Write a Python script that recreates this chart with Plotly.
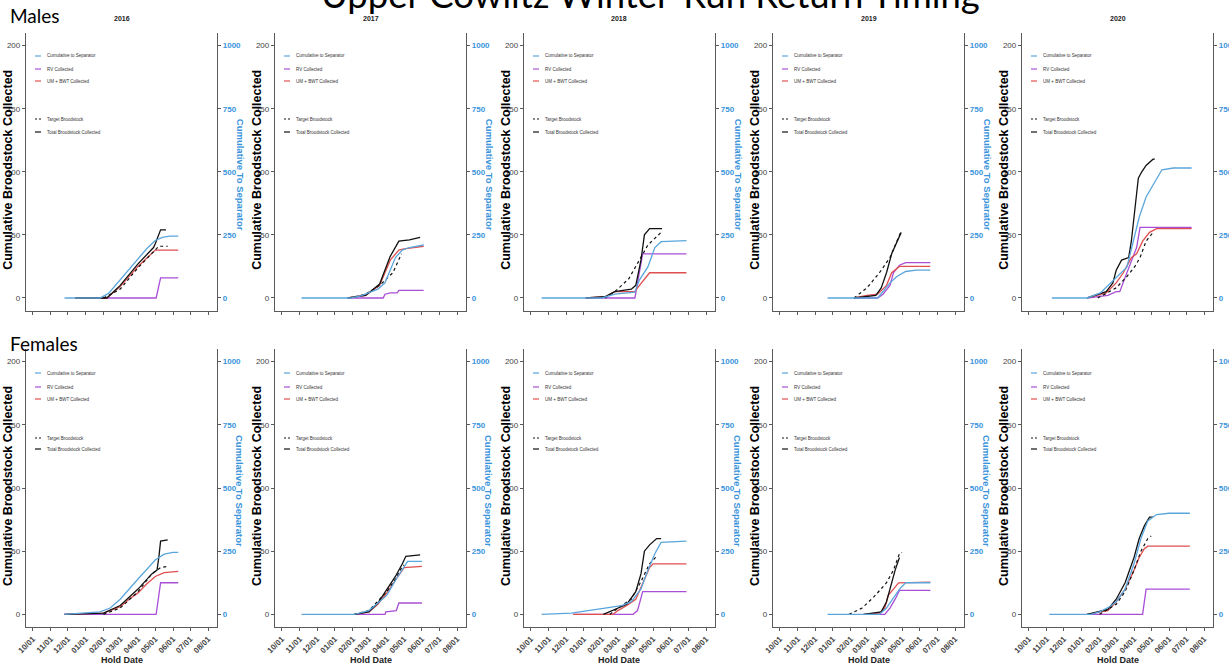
import math
import datetime
import calendar
import plotly.graph_objects as go

# ---------------- data (month index: 0 = Oct 01 of prior year, 10 = Aug 01) ----------------
SEXES = ["Males", "Females"]
YEARS = [2016, 2017, 2018, 2019, 2020]
MONTH_LABELS = ["10/01", "11/01", "12/01", "01/01", "02/01", "03/01",
                "04/01", "05/01", "06/01", "07/01", "08/01"]
LEFT_TICKS = [0, 50, 100, 150, 200]
RIGHT_TICKS = [0, 250, 500, 750, 1000]

# Cumulative to separator (right axis units)
SEPARATOR = {
    ("Males", 2016): [(1.8, 0), (3.8, 0), (4.3, 18), (5.0, 72), (5.5, 115), (6.0, 155), (6.5, 195), (7.0, 228), (7.4, 240), (7.8, 245), (8.3, 245)],
    ("Males", 2017): [(1.1, 0), (3.9, 0), (4.5, 8), (5.0, 20), (5.5, 35), (5.9, 60), (6.2, 110), (6.5, 160), (6.9, 190), (7.3, 200), (8.1, 210)],
    ("Males", 2018): [(0.6, 0), (4.0, 0), (4.8, 15), (5.95, 23), (6.2, 70), (6.7, 123), (7.1, 200), (7.45, 223), (8.9, 227)],
    ("Males", 2019): [(2.7, 0), (5.6, 0), (6.3, 60), (6.7, 85), (7.2, 105), (7.8, 110), (8.6, 110)],
    ("Males", 2020): [(1.3, 0), (3.3, 0), (4.05, 20), (5.0, 83), (5.6, 122), (6.05, 250), (6.3, 320), (6.7, 400), (7.1, 450), (7.6, 508), (8.25, 515), (9.3, 515)],
    ("Females", 2016): [(1.8, 0), (3.8, 10), (4.4, 25), (5.0, 60), (6.0, 140), (7.0, 215), (7.5, 238), (8.0, 245), (8.3, 245)],
    ("Females", 2017): [(1.1, 0), (4.1, 0), (5.0, 15), (6.0, 75), (6.55, 140), (7.0, 190), (7.2, 210), (8.0, 210)],
    ("Females", 2018): [(0.6, 0), (2.3, 5), (4.2, 25), (5.2, 35), (5.75, 50), (6.3, 100), (6.7, 175), (7.1, 240), (7.45, 285), (8.9, 290)],
    ("Females", 2019): [(2.7, 0), (5.7, 0), (6.1, 25), (6.5, 65), (6.85, 100), (7.2, 125), (8.6, 125)],
    ("Females", 2020): [(1.15, 0), (3.5, 0), (4.0, 10), (4.6, 30), (5.0, 50), (5.5, 100), (6.0, 200), (6.4, 300), (6.8, 370), (7.3, 395), (8.0, 400), (9.2, 400)],
}

RV = {
    ("Males", 2016): [(2.4, 0), (7.05, 0), (7.3, 16), (8.3, 16)],
    ("Males", 2017): [(3.7, 0), (5.8, 0), (5.9, 3), (6.2, 4), (6.6, 4), (6.7, 6), (8.1, 6)],
    ("Males", 2018): [(3.1, 0), (5.95, 0), (6.4, 35), (8.9, 35)],
    ("Males", 2019): [(4.2, 0), (5.6, 0), (5.9, 3), (6.3, 10), (6.5, 20), (6.85, 26), (7.2, 28), (8.6, 28)],
    ("Males", 2020): [(3.3, 0), (4.5, 2), (5.0, 5), (5.2, 5), (5.6, 20), (6.15, 40), (6.35, 56), (9.3, 56)],
    ("Females", 2016): [(1.8, 0), (7.05, 0), (7.3, 25), (8.3, 25)],
    ("Females", 2017): [(4.1, 0), (5.9, 0), (5.95, 2), (6.55, 3), (6.7, 9), (8.0, 9)],
    ("Females", 2018): [(2.4, 0), (5.85, 0), (6.1, 3), (6.4, 18), (8.9, 18)],
    ("Females", 2019): [(4.8, 0), (6.0, 0), (6.3, 5), (6.6, 12), (6.85, 19), (8.6, 19)],
    ("Females", 2020): [(3.3, 0), (6.5, 0), (6.7, 20), (9.2, 20)],
}

UM_BWT = {
    ("Males", 2016): [(2.4, 0), (4.2, 0), (5.0, 9), (6.0, 25), (7.0, 38), (8.3, 38)],
    ("Males", 2017): [(3.7, 0), (4.8, 2), (5.6, 10), (6.2, 30), (6.7, 38), (7.0, 39), (8.1, 41)],
    ("Males", 2018): [(3.1, 0), (4.2, 1), (4.8, 5), (5.95, 5), (6.1, 8), (6.6, 16), (6.8, 20), (8.9, 20)],
    ("Males", 2019): [(4.2, 0), (5.0, 2), (5.6, 3), (6.1, 10), (6.4, 20), (6.85, 25), (8.6, 25)],
    ("Males", 2020): [(3.3, 0), (4.4, 4), (5.0, 12), (5.4, 20), (5.85, 32), (6.15, 35), (6.5, 45), (6.9, 52), (7.3, 55), (9.3, 55)],
    ("Females", 2016): [(1.8, 0), (4.0, 1), (5.0, 6), (5.5, 12), (6.0, 17), (6.5, 24), (7.0, 30), (7.5, 33), (8.3, 34)],
    ("Females", 2017): [(4.1, 0), (5.0, 2), (5.5, 8), (6.0, 17), (6.5, 27), (6.8, 33), (7.0, 37), (8.0, 38)],
    ("Females", 2018): [(2.4, 0), (4.7, 0), (5.0, 3), (5.5, 7), (6.0, 12), (6.4, 25), (6.8, 37), (7.0, 40), (8.9, 40)],
    ("Females", 2019): [(4.8, 0), (5.7, 1), (6.0, 5), (6.2, 15), (6.5, 20), (6.8, 25), (8.6, 25.5)],
    ("Females", 2020): [(3.3, 0), (4.5, 3), (5.0, 10), (5.5, 20), (6.0, 35), (6.3, 45), (6.6, 52), (6.8, 54), (9.2, 54)],
}

TARGET = {
    ("Males", 2016): [(4.0, 0), (5.0, 7), (6.0, 24), (7.0, 38), (7.2, 41), (7.7, 41)],
    ("Males", 2017): [(3.8, 0), (4.8, 3), (5.6, 10), (6.35, 20), (6.85, 35)],
    ("Males", 2018): [(4.2, 0), (4.8, 5), (5.6, 15), (6.1, 28), (6.7, 42), (7.45, 52)],
    ("Males", 2019): [(4.2, 0), (5.0, 8), (5.7, 20), (6.3, 32), (6.7, 45), (6.95, 53)],
    ("Males", 2020): [(3.9, 0), (5.0, 8), (5.6, 17), (6.05, 25), (6.35, 32), (6.7, 45), (7.1, 52)],
    ("Females", 2016): [(4.0, 0), (5.0, 5), (6.0, 18), (6.8, 32), (7.3, 37), (7.7, 38)],
    ("Females", 2017): [(4.1, 0), (5.0, 3), (6.0, 18), (6.5, 28), (6.9, 38), (7.0, 39)],
    ("Females", 2018): [(4.5, 0), (5.0, 5), (5.75, 12), (6.3, 26), (6.8, 40), (7.2, 46)],
    ("Females", 2019): [(3.9, 0), (4.7, 5), (5.4, 14), (6.1, 25), (6.5, 35), (6.85, 48), (7.0, 49)],
    ("Females", 2020): [(4.0, 0), (5.0, 8), (5.5, 18), (6.0, 35), (6.4, 50), (6.8, 60), (7.0, 62)],
}

TOTAL = {
    ("Males", 2016): [(2.4, 0), (4.2, 0), (5.0, 10), (6.0, 27), (6.9, 40), (7.0, 43), (7.3, 54), (7.6, 54)],
    ("Males", 2017): [(3.7, 0), (4.8, 2), (5.6, 11), (6.2, 33), (6.7, 45), (7.3, 46), (7.9, 48)],
    ("Males", 2018): [(3.1, 0), (4.2, 1), (4.8, 5), (5.75, 7), (6.0, 10), (6.3, 30), (6.5, 50), (6.8, 55), (7.5, 55)],
    ("Males", 2019): [(4.2, 0), (5.5, 2), (5.8, 8), (6.1, 20), (6.4, 35), (6.7, 45), (6.95, 52)],
    ("Males", 2020): [(3.3, 0), (4.4, 5), (4.8, 12), (5.0, 22), (5.3, 30), (5.7, 32), (5.85, 45), (6.05, 70), (6.25, 95), (6.45, 100), (6.7, 105), (7.1, 110), (7.2, 110)],
    ("Females", 2016): [(1.8, 0), (4.0, 1), (5.0, 7), (6.0, 20), (6.8, 32), (7.1, 35), (7.2, 45), (7.3, 58), (7.7, 59)],
    ("Females", 2017): [(4.1, 0), (5.0, 2), (5.5, 9), (6.0, 20), (6.5, 30), (6.9, 40), (7.1, 46), (7.9, 47)],
    ("Females", 2018): [(4.1, 0), (5.0, 5), (5.5, 8), (6.0, 18), (6.3, 32), (6.5, 50), (6.8, 55), (7.2, 60), (7.45, 60)],
    ("Females", 2019): [(4.8, 0), (5.8, 2), (6.1, 10), (6.4, 25), (6.6, 35), (6.85, 45)],
    ("Females", 2020): [(3.3, 0), (4.5, 4), (5.0, 12), (5.5, 25), (6.0, 45), (6.3, 60), (6.6, 70), (6.9, 77), (7.1, 77)],
}

LEGEND_TEXT = ["Cumulative to Separator", "RV Collected", "UM + BWT Collected",
               "Target Broodstock", "Total Broodstock Collected"]

# ---------------- styling ----------------
W, H = 1229, 671
BLUE = "#5aa6dc"
PURPLE = "#a94fd6"
RED = "#df4f4f"
BLACK = "#111111"
AXBLUE = "#3a94dc"
AXC = "#5a5a5a"
FONT = "Liberation Sans"


def m2date(year, m):
    k = int(math.floor(m))
    frac = m - k
    mo = 10 + k
    y = year - 1
    while mo > 12:
        mo -= 12
        y += 1
    while mo < 1:
        mo += 12
        y -= 1
    start = datetime.datetime(y, mo, 1)
    nd = calendar.monthrange(y, mo)[1]
    return start + datetime.timedelta(days=frac * nd)


def px(x):
    return x / W


def py(y):
    return 1 - y / H


fig = go.Figure()
layout = dict(width=W, height=H, margin=dict(l=0, r=0, t=0, b=0, autoexpand=False),
              plot_bgcolor="white", paper_bgcolor="white", showlegend=False)
annotations = []
shapes = []

ROW_Y = {0: (33, 310.6), 1: (349, 627)}
LEG_Y = {0: [56, 69, 81, 119, 132], 1: [373, 387, 399, 438, 449]}

idx = 0
for r, sex in enumerate(SEXES):
    for c, year in enumerate(YEARS):
        idx += 1
        i = idx
        j = 10 + idx
        xl = 26 + 249 * c
        xr = 217 + 249 * c
        yt, yb = ROW_Y[r]
        xname = "x" if i == 1 else f"x{i}"
        yname = "y" if i == 1 else f"y{i}"
        y2name = f"y{j}"
        key = (sex, year)

        def add(series, color, axis, dash=None, width=1.3):
            pts = series[key]
            fig.add_trace(go.Scatter(
                x=[m2date(year, m) for m, _ in pts], y=[v for _, v in pts],
                mode="lines", xaxis=xname, yaxis=axis,
                line=dict(color=color, width=width, dash=dash), hoverinfo="skip"))

        add(RV, PURPLE, yname)
        add(UM_BWT, RED, yname)
        add(TARGET, BLACK, yname, dash="3px,3px", width=1.2)
        add(TOTAL, BLACK, yname)
        add(SEPARATOR, BLUE, y2name)

        tickvals = [m2date(year, k) for k in range(len(MONTH_LABELS))]
        layout[f"xaxis{i}"] = dict(
            domain=[px(xl), px(xr)], anchor=yname, type="date", automargin=False,
            range=[m2date(year, -0.4), m2date(year, 10.5)],
            tickvals=tickvals, ticktext=MONTH_LABELS,
            showticklabels=(r == 1), tickangle=-45,
            tickfont=dict(family=FONT, size=8, color="#444", weight="bold"),
            ticks="outside", ticklen=3, tickcolor=AXC, tickwidth=1,
            showline=True, linecolor=AXC, linewidth=1.3,
            showgrid=False, zeroline=False, fixedrange=True)
        layout[f"yaxis{i}"] = dict(
            domain=[py(yb), py(yt)], anchor=xname, range=[-10, 210], automargin=False,
            tickvals=LEFT_TICKS, ticks="outside", ticklen=3, tickcolor=AXC,
            tickfont=dict(family=FONT, size=8, color="#444"),
            showline=True, linecolor=AXC, linewidth=1.3,
            showgrid=False, zeroline=False, fixedrange=True)
        layout[f"yaxis{j}"] = dict(
            overlaying=yname, side="right", anchor=xname, range=[-50, 1050], automargin=False,
            tickvals=RIGHT_TICKS, ticks="outside", ticklen=3, tickcolor=AXC,
            tickfont=dict(family=FONT, size=8, color=AXBLUE, weight="bold"),
            showline=True, linecolor=AXC, linewidth=1.3,
            showgrid=False, zeroline=False, fixedrange=True)

        ymid = (yt + yb) / 2
        annotations.append(dict(x=px(xl - 18), y=py(ymid - 2), xref="paper", yref="paper",
                                xanchor="center", yanchor="middle",
                                text="Cumulative Broodstock Collected", textangle=-90,
                                showarrow=False, font=dict(family=FONT, size=12.5, color="black", weight="bold")))
        annotations.append(dict(x=px(xr + 23), y=py(ymid + 3), xref="paper", yref="paper",
                                xanchor="center", yanchor="middle",
                                text="Cumulative To Separator", textangle=90,
                                showarrow=False, font=dict(family=FONT, size=9.5, color=AXBLUE, weight="bold")))
        if r == 0:
            annotations.append(dict(x=px((xl + xr) / 2), y=py(18), xref="paper", yref="paper",
                                    xanchor="center", yanchor="middle",
                                    text=str(year), showarrow=False,
                                    font=dict(family=FONT, size=7, color="#222", weight="bold")))
        else:
            annotations.append(dict(x=px((xl + xr) / 2), y=py(660), xref="paper", yref="paper",
                                    xanchor="center", yanchor="middle",
                                    text="Hold Date", showarrow=False,
                                    font=dict(family=FONT, size=9, color="#222", weight="bold")))

        # in-panel legend
        leg_colors = [BLUE, PURPLE, RED, BLACK, BLACK]
        leg_dash = [None, None, None, "2px,2px", None]
        for k, (txt, col, ds) in enumerate(zip(LEGEND_TEXT, leg_colors, leg_dash)):
            ly = LEG_Y[r][k]
            shapes.append(dict(type="line", xref="paper", yref="paper",
                               x0=px(xl + 9), x1=px(xl + 15), y0=py(ly), y1=py(ly),
                               line=dict(color=col, width=1.2, dash=ds)))
            annotations.append(dict(x=px(xl + 19), y=py(ly), xref="paper", yref="paper",
                                    xanchor="left", yanchor="middle", text=txt, showarrow=False,
                                    font=dict(family=FONT, size=4.5, color="#333")))

annotations.append(dict(x=px(651), y=py(18), xref="paper", yref="paper", xanchor="center",
                        yanchor="bottom", text="Upper Cowlitz Winter-Run Return Timing",
                        showarrow=False, font=dict(family="Lato", size=36.5, color="black")))
annotations.append(dict(x=px(8), y=py(2), xref="paper", yref="paper", xanchor="left",
                        yanchor="top", text="Males", showarrow=False,
                        font=dict(family="Lato", size=19, color="black")))
annotations.append(dict(x=px(8), y=py(330), xref="paper", yref="paper", xanchor="left",
                        yanchor="top", text="Females", showarrow=False,
                        font=dict(family="Lato", size=19, color="black")))

layout["annotations"] = annotations
layout["shapes"] = shapes
fig.update_layout(**layout)
fig.write_html("out.html", config={"displayModeBar": False},
               post_script="document.body.style.margin='0';")
